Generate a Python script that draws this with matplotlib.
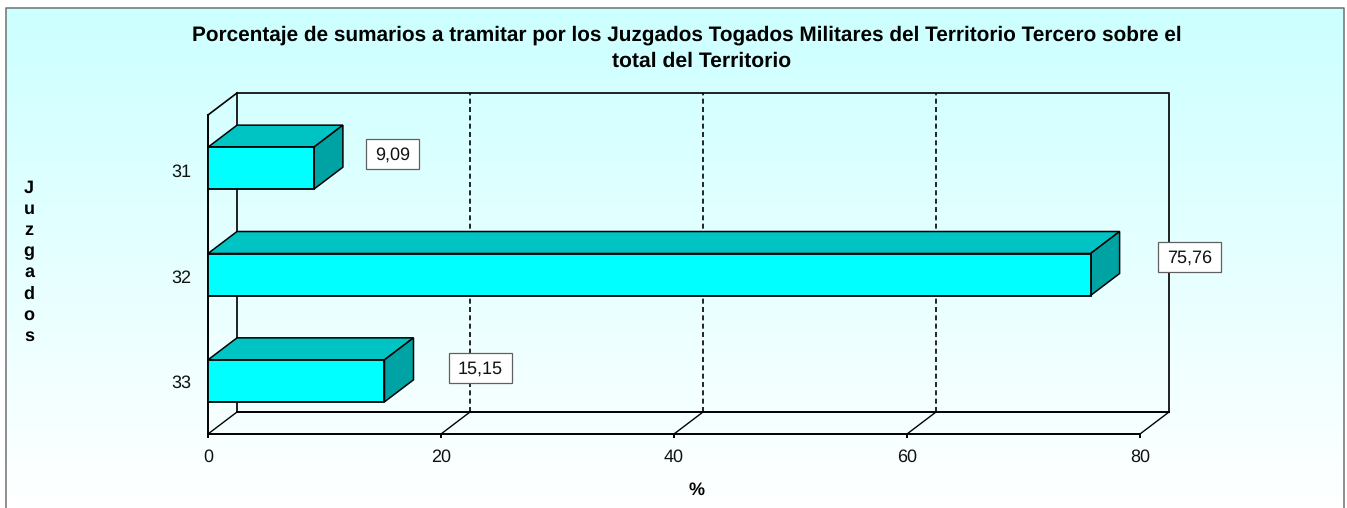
import numpy as np
import matplotlib.pyplot as plt
from matplotlib.patches import Polygon, Rectangle
from matplotlib.transforms import ScaledTranslation

plt.rcParams['font.family'] = ['Liberation Sans', 'DejaVu Sans']
plt.rcParams['text.hinting'] = 'no_hinting'

# data
juzgados = ['31', '32', '33']
valores = [9.09, 75.76, 15.15]
etiquetas = ['9,09', '75,76', '15,15']
xticks = [0, 20, 40, 60, 80]
titulo1 = 'Porcentaje de sumarios a tramitar por los Juzgados Togados Militares del Territorio Tercero sobre el'
titulo2 = 'total del Territorio'

W, H = 1347, 508
fig = plt.figure(figsize=(W / 100, H / 100), dpi=100)

# background gradient + panel border, whole figure in pixel coords
bg = fig.add_axes([0, 0, 1, 1], zorder=0)
grad = np.ones((H, 1, 3))
grad[8:, 0, 0] = np.linspace(0.80, 1.0, H - 8)
bg.imshow(grad, extent=[6, 1344, H, 0], aspect='auto', interpolation='bilinear')
bg.set_xlim(0, W)
bg.set_ylim(H, 0)
bg.axis('off')
bg.add_patch(Rectangle((0, 0), W, 8, color='white', lw=0))
bg.plot([6, 6, 1344, 1344], [H, 8, 8, H], color='#707070', lw=1.1)

# main axes = front plane of the box
left, right, top, bottom = 208, 1140, 115, 434
ax = fig.add_axes([left / W, 1 - bottom / H, (right - left) / W, (bottom - top) / H], zorder=1)
ax.patch.set_alpha(0)
ax.set_xlim(0, 80)
ax.set_ylim(3, 0)

px = 80 / (right - left)          # data units per pixel in x
py = 3 / (bottom - top)           # same for y
dx = 29 * px
dy = 22 * py
lw = 1.4

# back wall and floor
ax.plot([dx, dx], [3 - dy, -dy], color='#202020', lw=lw, clip_on=False, zorder=1)
ax.plot([dx, 80 + dx, 80 + dx], [-dy, -dy, 3 - dy], color='#202020', lw=lw, clip_on=False, zorder=1)
ax.plot([dx, 80 + dx], [3 - dy, 3 - dy], color='black', lw=lw, clip_on=False, zorder=1)
ax.plot([0, dx], [0, -dy], color='black', lw=1.2, clip_on=False, zorder=1)
for t in xticks:
    ax.plot([t, t + dx], [3, 3 - dy], color='black', lw=1.0, clip_on=False, zorder=1)
for t in xticks[1:-1]:
    ax.plot([t + dx, t + dx], [3 - dy, -dy], color='black', lw=1.2, ls=(0, (3, 2)), clip_on=False, zorder=1)

# 3d bars
alto = 42 * py
for i, v in enumerate(valores):
    y0 = i + 0.5 - alto / 2
    y1 = y0 + alto
    ax.add_patch(Polygon([(0, y0), (dx, y0 - dy), (v + dx, y0 - dy), (v, y0)],
                         fc='#00C4C4', ec='black', lw=1.1, zorder=2, clip_on=False))
    ax.add_patch(Polygon([(v, y0), (v + dx, y0 - dy), (v + dx, y1 - dy), (v, y1)],
                         fc='#00A3A3', ec='black', lw=1.1, zorder=2, clip_on=False))
    ax.add_patch(Rectangle((0, y0), v, alto, fc='#00FFFF', ec='black', lw=1.3, zorder=3, clip_on=False))

# value labels, offset from the bar end in pixels
desp_x = [78.9, 99.2, 96]
desp_y = [-14.2, -17.5, -13]
caja_w = [53, 63, 63]
for i, v in enumerate(valores):
    cx = v + desp_x[i] * px
    cy = i + 0.5 + desp_y[i] * py
    w = caja_w[i] * px
    h = 30 * py
    ax.add_patch(Rectangle((cx - w / 2, cy - h / 2), w, h, fc='white', ec='#606060', lw=0.9,
                           zorder=4, clip_on=False))
    ax.text(cx, cy + 1 * py, etiquetas[i], ha='center', va='center', fontsize=13, color='#111111',
            zorder=5, clip_on=False)

# axes
for s in ['top', 'right']:
    ax.spines[s].set_visible(False)
for s in ['left', 'bottom']:
    ax.spines[s].set_linewidth(1.4)
ax.set_xticks(xticks)
ax.set_xticklabels([str(t) for t in xticks], fontsize=13, color='#111111')
ax.tick_params(axis='x', length=3, width=1.4, pad=8)
ax.set_yticks([0.5, 1.5, 2.5])
ax.set_yticklabels(juzgados, fontsize=13, color='#111111')
ax.tick_params(axis='y', length=0, pad=12)
bajar = [2, 1.5, 0]
for lab, b in zip(ax.get_yticklabels(), bajar):
    lab.set_transform(lab.get_transform() + ScaledTranslation(0, -b / 100, fig.dpi_scale_trans))

fig.text(687 / W, 1 - 41 / H, titulo1, ha='center', va='baseline', fontsize=14.95, fontweight='bold', zorder=6)
fig.text(702 / W, 1 - 66.5 / H, titulo2, ha='center', va='baseline', fontsize=15.2, fontweight='bold', zorder=6)
fig.text(29 / W, 1 - 262 / H, '\n'.join('Juzgados'), ha='center', va='center', fontsize=13,
         fontweight='bold', linespacing=1.34, zorder=6)
fig.text(697 / W, 1 - 490 / H, '%', ha='center', va='center', fontsize=13, fontweight='bold', zorder=6)

fig.savefig('out.png', dpi=100)
